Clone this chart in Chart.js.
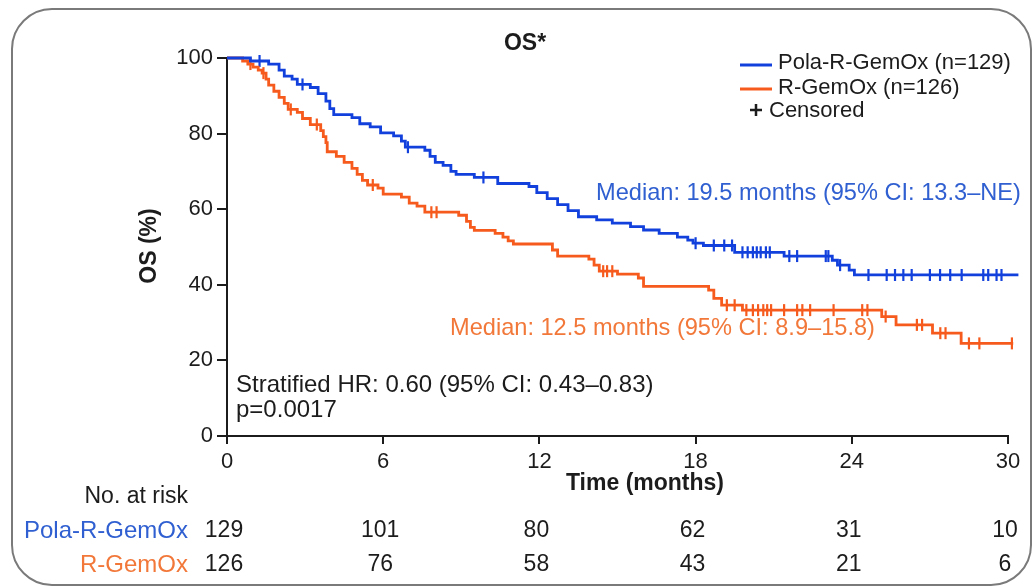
<!DOCTYPE html>
<html>
<head>
<meta charset="utf-8">
<title>OS Kaplan-Meier</title>
<script src="https://cdn.jsdelivr.net/npm/chart.js@4.4.1/dist/chart.umd.min.js"></script>
<style>
  html, body { margin: 0; padding: 0; background: #ffffff; }
  #wrap { width: 1034px; height: 588px; position: relative; }
  canvas { display: block; }
</style>
</head>
<body>
<div id="wrap"><canvas id="km" width="1034" height="588"></canvas></div>
<script>
// ---- Data ----------------------------------------------------------
const timeTicks = [0, 6, 12, 18, 24, 30];

// Pola-R-GemOx: event times (months) and survival (%) after each step
const polaTimes = [0, 0.9, 1.6, 2.0, 2.2, 2.5, 2.7, 3.2, 3.5, 3.8, 3.95, 4.1, 4.8, 5.1, 5.5, 5.9,
  6.4, 6.7, 6.85, 7.6, 7.8, 8.0, 8.3, 8.6, 8.8, 9.5, 10.4, 11.6, 11.9, 12.3, 12.7, 13.1, 13.5,
  14.2, 14.8, 15.5, 16.0, 16.6, 17.3, 17.7, 17.9, 18.3, 19.5, 21.4, 23.25, 23.45, 23.9, 24.1, 30.4];
const polaSurv = [100, 99.2, 98.4, 96.8, 95.2, 94.4, 93.0, 92.2, 90.6, 88.6, 86.6, 85.0, 84.2, 82.6, 81.8, 80.2,
  79.4, 78.0, 76.4, 75.6, 74.0, 72.4, 71.6, 70.0, 69.2, 68.4, 66.8, 66.0, 64.4, 62.8, 61.2, 59.6, 58.0,
  57.2, 56.3, 55.4, 54.5, 53.6, 52.6, 51.8, 51.0, 50.4, 48.6, 47.6, 46.5, 45.2, 43.9, 42.6, 42.6];
const polaCensored = [1.25, 2.9, 6.95, 9.85, 18.0, 18.7, 19.1, 19.4, 19.8, 20.0, 20.2, 20.35, 20.5, 20.7, 20.85,
  21.6, 21.9, 23.0, 23.1, 23.55, 24.64, 25.34, 25.66, 25.98, 26.3, 27.0, 27.39, 27.78, 28.22,
  29.05, 29.24, 29.56, 29.75];

// R-GemOx
const rgTimes = [0, 0.6, 0.8, 1.0, 1.2, 1.35, 1.5, 1.6, 1.8, 2.0, 2.2, 2.35, 2.7, 2.9, 3.2, 3.6, 3.7,
  3.8, 3.85, 4.2, 4.5, 4.8, 5.0, 5.2, 5.4, 5.8, 6.0, 6.7, 7.0, 7.3, 7.6, 8.9, 9.2, 9.35, 9.5,
  10.3, 10.6, 10.8, 11.0, 12.5, 12.7, 13.9, 14.1, 14.3, 15.0, 15.8, 16.0, 18.5, 18.7, 19.0,
  19.8, 25.15, 25.7, 27.1, 28.2, 30.2];
const rgSurv = [100, 99.2, 98.4, 97.6, 96.8, 96.0, 94.4, 92.8, 91.2, 89.6, 88.0, 86.4, 85.6, 84.0, 82.4, 80.8, 79.2,
  77.6, 75.2, 74.0, 72.4, 70.8, 69.2, 67.6, 66.4, 65.6, 64.0, 63.2, 61.6, 60.8, 59.2, 58.4, 56.8, 55.2, 54.4,
  53.6, 52.6, 51.6, 50.8, 49.2, 47.6, 46.8, 45.2, 43.6, 42.8, 41.8, 39.6, 38.6, 36.4, 34.6,
  33.3, 31.6, 29.4, 27.2, 24.5, 24.5];
const rgCensored = [0.9, 1.4, 2.45, 3.45, 5.6, 7.85, 8.05, 14.45, 14.6, 14.8, 19.2, 19.5, 19.95, 20.2,
  20.4, 20.6, 20.75, 20.9, 21.4, 21.9, 22.1, 22.4, 23.3, 24.4, 24.6, 25.3, 26.5, 26.7, 27.4,
  27.6, 28.5, 28.9, 30.15];

// Number at risk at each x tick
const polaAtRisk = [129, 101, 80, 62, 31, 10];
const rgAtRisk = [126, 76, 58, 43, 21, 6];

// ---- Styling ---------------------------------------------------------
const BLUE = '#1140dc';
const ORANGE = '#f65a1c';
const BLUE_TEXT = '#2f5fd0';
const ORANGE_TEXT = '#f2783a';
const INK = '#1c1c1c';
const FONT = '"Liberation Sans", Arial, Helvetica, sans-serif';

// ---- Helpers ---------------------------------------------------------
function toPoints(times, surv) {
  return times.map((t, i) => ({ x: t, y: surv[i] }));
}
// survival value of a step curve at time t
function survAt(times, surv, t) {
  let s = surv[0];
  for (let i = 0; i < times.length; i++) {
    if (times[i] <= t) s = surv[i]; else break;
  }
  return s;
}
function censorPoints(times, surv, cens) {
  return cens.map(t => ({ x: t, y: survAt(times, surv, t) }));
}

// ---- Annotations drawn on the canvas ----------------------------------
const annotations = {
  id: 'kmAnnotations',
  afterDraw(chart) {
    const ctx = chart.ctx;
    const xs = chart.scales.x;
    ctx.save();

    // rounded frame
    ctx.strokeStyle = '#7a7a7a';
    ctx.lineWidth = 2;
    ctx.beginPath();
    ctx.roundRect(12, 9, 1019, 576, 40);
    ctx.stroke();

    ctx.textBaseline = 'middle';

    // title
    ctx.fillStyle = INK;
    ctx.font = 'bold 23px ' + FONT;
    ctx.textAlign = 'center';
    ctx.fillText('OS*', 525, 44);

    // axis titles
    ctx.fillText('Time (months)', 645, 484);
    ctx.save();
    ctx.translate(150, 246);
    ctx.rotate(-Math.PI / 2);
    ctx.fillText('OS (%)', 0, 0);
    ctx.restore();

    // legend
    ctx.lineWidth = 3;
    ctx.strokeStyle = BLUE;
    ctx.beginPath(); ctx.moveTo(740, 65); ctx.lineTo(772, 65); ctx.stroke();
    ctx.strokeStyle = ORANGE;
    ctx.beginPath(); ctx.moveTo(740, 89); ctx.lineTo(772, 89); ctx.stroke();
    ctx.strokeStyle = INK;
    ctx.lineWidth = 2.5;
    ctx.beginPath();
    ctx.moveTo(750, 110); ctx.lineTo(762, 110);
    ctx.moveTo(756, 104); ctx.lineTo(756, 116);
    ctx.stroke();
    ctx.font = '22px ' + FONT;
    ctx.textAlign = 'left';
    ctx.fillStyle = INK;
    ctx.fillText('Pola-R-GemOx (n=129)', 778, 63);
    ctx.fillText('R-GemOx (n=126)', 778, 88);
    ctx.fillText('Censored', 769, 111);

    // medians
    ctx.font = '23.6px ' + FONT;
    ctx.fillStyle = BLUE_TEXT;
    ctx.fillText('Median: 19.5 months (95% CI: 13.3\u2013NE)', 596, 193);
    ctx.fillStyle = ORANGE_TEXT;
    ctx.fillText('Median: 12.5 months (95% CI: 8.9\u201315.8)', 450, 328);

    // hazard ratio
    ctx.font = '24px ' + FONT;
    ctx.fillStyle = INK;
    ctx.fillText('Stratified HR: 0.60 (95% CI: 0.43\u20130.83)', 236, 385);
    ctx.fillText('p=0.0017', 236, 410);

    // number at risk table
    ctx.textAlign = 'right';
    ctx.font = '23px ' + FONT;
    ctx.fillStyle = INK;
    ctx.fillText('No. at risk', 188, 497);
    ctx.font = '24px ' + FONT;
    ctx.fillStyle = BLUE_TEXT;
    ctx.fillText('Pola-R-GemOx', 188, 531);
    ctx.fillStyle = ORANGE_TEXT;
    ctx.fillText('R-GemOx', 188, 565);
    ctx.font = '23px ' + FONT;
    ctx.textAlign = 'center';
    ctx.fillStyle = INK;
    timeTicks.forEach((t, i) => {
      const px = xs.getPixelForValue(t) - 3;
      ctx.fillText(String(polaAtRisk[i]), px, 531);
      ctx.fillText(String(rgAtRisk[i]), px, 565);
    });

    ctx.restore();
  }
};

// ---- Chart -------------------------------------------------------------
new Chart(document.getElementById('km'), {
  type: 'line',
  data: {
    datasets: [
      {
        label: 'Pola-R-GemOx (n=129)',
        data: toPoints(polaTimes, polaSurv),
        borderColor: BLUE,
        borderWidth: 2.8,
        stepped: 'before',
        pointRadius: 0,
        fill: false,
        clip: false
      },
      {
        label: 'R-GemOx (n=126)',
        data: toPoints(rgTimes, rgSurv),
        borderColor: ORANGE,
        borderWidth: 2.8,
        stepped: 'before',
        pointRadius: 0,
        fill: false,
        clip: false
      },
      {
        type: 'scatter',
        label: 'Censored (Pola-R-GemOx)',
        data: censorPoints(polaTimes, polaSurv, polaCensored),
        showLine: false,
        pointStyle: 'line',
        rotation: 90,
        pointRadius: 6,
        pointBorderWidth: 2.2,
        borderColor: BLUE,
        backgroundColor: BLUE,
        clip: false
      },
      {
        type: 'scatter',
        label: 'Censored (R-GemOx)',
        data: censorPoints(rgTimes, rgSurv, rgCensored),
        showLine: false,
        pointStyle: 'line',
        rotation: 90,
        pointRadius: 6,
        pointBorderWidth: 2.2,
        borderColor: ORANGE,
        backgroundColor: ORANGE,
        clip: false
      }
    ]
  },
  options: {
    responsive: false,
    animation: false,
    devicePixelRatio: 1,
    layout: { padding: { top: 58, right: 26, bottom: 0, left: 0 } },
    plugins: {
      legend: { display: false },
      title: { display: false },
      tooltip: { enabled: false }
    },
    elements: { line: { tension: 0 } },
    scales: {
      x: {
        type: 'linear',
        min: 0,
        max: 30,
        afterFit(scale) { scale.height = 152; },
        ticks: {
          stepSize: 6,
          color: INK,
          padding: 5,
          font: { family: FONT, size: 22 },
          maxRotation: 0
        },
        grid: { drawOnChartArea: false, drawTicks: true, tickLength: 8, color: INK, lineWidth: 2 },
        border: { display: true, color: INK, width: 2 }
      },
      y: {
        type: 'linear',
        min: 0,
        max: 100,
        afterFit(scale) { scale.width = 227; },
        ticks: {
          stepSize: 20,
          color: INK,
          padding: 4,
          font: { family: FONT, size: 22 }
        },
        grid: { drawOnChartArea: false, drawTicks: true, tickLength: 10, color: INK, lineWidth: 2 },
        border: { display: true, color: INK, width: 2 }
      }
    }
  },
  plugins: [annotations]
});
</script>
</body>
</html>
